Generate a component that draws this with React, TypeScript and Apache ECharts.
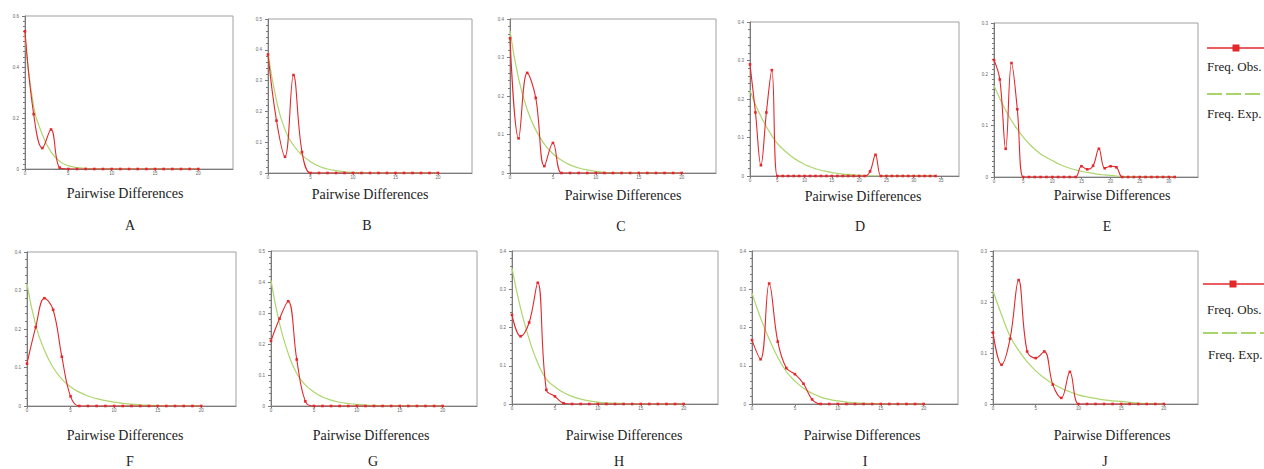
import React, { useEffect, useRef } from "react";
import * as echarts from "echarts";

// ---- Data (x = pairwise differences 0,1,2,...) ----
const panelLetters = ["A", "B", "C", "D", "E", "F", "G", "H", "I", "J"];

const obsA = [0.54, 0.215, 0.082, 0.155, 0.005, 0, 0, 0, 0, 0, 0, 0, 0, 0, 0, 0, 0, 0, 0, 0, 0];
const expA = [0.53, 0.245, 0.135, 0.067, 0.03, 0.013, 0.006, 0.003, 0.001, 0, 0, 0, 0, 0, 0, 0, 0, 0, 0, 0, 0];

const obsB = [0.385, 0.17, 0.053, 0.318, 0.068, 0, 0, 0, 0, 0, 0, 0, 0, 0, 0, 0, 0, 0, 0, 0, 0];
const expB = [0.39, 0.235, 0.14, 0.09, 0.058, 0.037, 0.022, 0.013, 0.008, 0.004, 0.002, 0.001, 0, 0, 0, 0, 0, 0, 0, 0, 0];

const obsC = [0.35, 0.09, 0.26, 0.195, 0.018, 0.078, 0, 0, 0, 0, 0, 0, 0, 0, 0, 0, 0, 0, 0, 0, 0];
const expC = [0.37, 0.245, 0.165, 0.112, 0.075, 0.05, 0.033, 0.021, 0.013, 0.008, 0.004, 0.002, 0.001, 0, 0, 0, 0, 0, 0, 0, 0];

const obsD = [0.29, 0.165, 0.028, 0.165, 0.275, 0, 0, 0, 0, 0, 0, 0, 0, 0, 0, 0, 0, 0, 0, 0, 0, 0, 0.012, 0.055, 0, 0, 0, 0, 0, 0, 0, 0, 0, 0, 0];
const expD = [0.223, 0.185, 0.155, 0.128, 0.105, 0.085, 0.07, 0.058, 0.047, 0.038, 0.03, 0.024, 0.019, 0.015, 0.012, 0.009, 0.007, 0.005, 0.004, 0.003, 0.002, 0.001, 0, 0, 0, 0, 0, 0, 0, 0, 0, 0, 0, 0, 0];

const obsE = [0.228, 0.19, 0.055, 0.222, 0.132, 0, 0, 0, 0, 0, 0, 0, 0, 0, 0, 0.021, 0.015, 0.022, 0.055, 0.017, 0.021, 0.019, 0, 0, 0, 0, 0, 0, 0, 0, 0, 0];
const expE = [0.178, 0.153, 0.13, 0.11, 0.093, 0.078, 0.065, 0.054, 0.045, 0.038, 0.032, 0.026, 0.021, 0.017, 0.014, 0.011, 0.009, 0.007, 0.005, 0.004, 0.003, 0.002, 0.001, 0, 0, 0, 0, 0, 0, 0, 0, 0];

const obsF = [0.11, 0.205, 0.28, 0.25, 0.128, 0.025, 0, 0, 0, 0, 0, 0, 0, 0, 0, 0, 0, 0, 0, 0, 0];
const expF = [0.318, 0.21, 0.145, 0.1, 0.07, 0.05, 0.036, 0.026, 0.019, 0.014, 0.01, 0.007, 0.005, 0.003, 0.002, 0.001, 0, 0, 0, 0, 0];

const obsG = [0.21, 0.282, 0.338, 0.15, 0.015, 0, 0, 0, 0, 0, 0, 0, 0, 0, 0, 0, 0, 0, 0, 0, 0];
const expG = [0.405, 0.265, 0.17, 0.105, 0.068, 0.045, 0.029, 0.019, 0.012, 0.008, 0.005, 0.003, 0.002, 0.001, 0, 0, 0, 0, 0, 0, 0];

const obsH = [0.233, 0.177, 0.213, 0.317, 0.037, 0.02, 0.002, 0, 0, 0, 0, 0, 0, 0, 0, 0, 0, 0, 0, 0, 0];
const expH = [0.355, 0.25, 0.17, 0.107, 0.065, 0.045, 0.03, 0.02, 0.013, 0.008, 0.005, 0.003, 0.002, 0.001, 0, 0, 0, 0, 0, 0, 0];

const obsI = [0.167, 0.117, 0.315, 0.163, 0.094, 0.078, 0.053, 0.012, 0, 0, 0, 0, 0, 0, 0, 0, 0, 0, 0, 0, 0];
const expI = [0.29, 0.225, 0.17, 0.122, 0.085, 0.06, 0.041, 0.028, 0.018, 0.012, 0.008, 0.005, 0.003, 0.002, 0.001, 0, 0, 0, 0, 0, 0];

const obsJ = [0.14, 0.077, 0.128, 0.243, 0.103, 0.09, 0.103, 0.038, 0.012, 0.063, 0, 0, 0, 0, 0, 0, 0, 0, 0, 0, 0];
const expJ = [0.222, 0.175, 0.133, 0.105, 0.083, 0.065, 0.051, 0.04, 0.031, 0.024, 0.018, 0.014, 0.011, 0.008, 0.006, 0.005, 0.003, 0.002, 0.001, 0.001, 0];

const observed = [obsA, obsB, obsC, obsD, obsE, obsF, obsG, obsH, obsI, obsJ];
const expected = [expA, expB, expC, expD, expE, expF, expG, expH, expI, expJ];

const yMax = [0.6, 0.5, 0.4, 0.4, 0.3, 0.4, 0.5, 0.4, 0.4, 0.3];
const yInterval = [0.2, 0.1, 0.1, 0.1, 0.1, 0.1, 0.1, 0.1, 0.1, 0.1];
const yMinorSplit = [10, 5, 5, 5, 10, 5, 5, 5, 5, 10];
const xMax = [24, 24, 24, 38.3, 35, 24, 24, 24, 24, 24];

const xTitle = "Pairwise Differences";
const legendObs = "Freq. Obs.";
const legendExp = "Freq. Exp.";

// ---- Layout (pixels) ----
const grids = [
  { left: 25, top: 16, width: 208, height: 153 },
  { left: 268, top: 19, width: 204, height: 154 },
  { left: 510, top: 19, width: 206, height: 154 },
  { left: 750, top: 22, width: 209, height: 154 },
  { left: 994, top: 23, width: 204, height: 154 },
  { left: 27, top: 252, width: 209, height: 154 },
  { left: 271, top: 251, width: 206, height: 155 },
  { left: 512, top: 251, width: 206, height: 153 },
  { left: 752, top: 251, width: 206, height: 153 },
  { left: 993, top: 251, width: 205, height: 153 },
];
const titlePos = [
  [125, 193], [370, 194], [623, 195], [863, 196], [1112, 195],
  [125, 435], [371, 435], [624, 435], [862, 435], [1112, 435],
];
const letterPos = [
  [130, 225], [367, 225], [621, 226], [860, 226], [1107, 226],
  [130, 461], [373, 461], [619, 461], [865, 461], [1105, 461],
];

const RED = "#e3282c";
const GREEN = "#add66e";
const AXIS = "#7a7a7a";
const SERIF = "'Liberation Serif', 'DejaVu Serif', serif";
const SANS = "'Liberation Sans', Arial, sans-serif";

function buildOption() {
  const grid: any[] = [];
  const xAxis: any[] = [];
  const yAxis: any[] = [];
  const series: any[] = [];
  const graphic: any[] = [];

  for (let i = 0; i < 10; i++) {
    grid.push({
      ...grids[i],
      show: true,
      borderColor: "#a0a0a0",
      borderWidth: 1,
      backgroundColor: "transparent",
      containLabel: false,
      outerBoundsMode: "none",
    });
    xAxis.push({
      type: "value",
      gridIndex: i,
      min: 0,
      max: xMax[i],
      interval: 5,
      axisLine: { show: true, lineStyle: { color: AXIS, width: 1 } },
      axisTick: { show: true, length: 2, lineStyle: { color: AXIS } },
      axisLabel: { fontSize: 4.5, color: "#666", margin: 2, fontFamily: SANS, showMaxLabel: false },
      splitLine: { show: false },
    });
    yAxis.push({
      type: "value",
      gridIndex: i,
      min: 0,
      max: yMax[i],
      interval: yInterval[i],
      axisLine: { show: true, lineStyle: { color: AXIS, width: 1 } },
      axisTick: { show: true, length: 3, lineStyle: { color: AXIS } },
      minorTick: { show: true, splitNumber: yMinorSplit[i], length: 2, lineStyle: { color: AXIS } },
      axisLabel: {
        fontSize: 4.5,
        color: "#666",
        margin: 6,
        fontFamily: SANS,
        formatter: (v: number) => (v === 0 ? "0" : String(+v.toFixed(1))),
      },
      splitLine: { show: false },
      minorSplitLine: { show: false },
    });
    series.push({
      type: "line",
      xAxisIndex: i,
      yAxisIndex: i,
      data: expected[i].map((v, k) => [k, v]),
      smooth: 0.5,
      showSymbol: false,
      symbol: "none",
      lineStyle: { color: GREEN, width: 1.2 },
      itemStyle: { color: GREEN },
      z: 2,
    });
    series.push({
      type: "line",
      xAxisIndex: i,
      yAxisIndex: i,
      data: observed[i].map((v, k) => [k, v]),
      smooth: 0.4,
      symbol: "rect",
      symbolSize: 2.6,
      showSymbol: true,
      lineStyle: { color: RED, width: 1.1 },
      itemStyle: { color: RED },
      z: 3,
    });
    graphic.push({
      type: "text",
      x: titlePos[i][0],
      y: titlePos[i][1],
      style: {
        text: xTitle,
        fontSize: 14,
        fontFamily: SERIF,
        fill: "#222",
        align: "center",
        verticalAlign: "middle",
      },
    });
    graphic.push({
      type: "text",
      x: letterPos[i][0],
      y: letterPos[i][1],
      style: {
        text: panelLetters[i],
        fontSize: 14,
        fontFamily: SERIF,
        fill: "#222",
        align: "center",
        verticalAlign: "middle",
      },
    });
  }

  // Legends (one per row)
  const legends = [
    { lineX: 1207, obsY: 48, markX: 1236, obsTextX: 1207, obsTextY: 66, expY: 94, expTextX: 1207, expTextY: 113 },
    { lineX: 1203, obsY: 284, markX: 1233, obsTextX: 1207, obsTextY: 309, expY: 333, expTextX: 1208, expTextY: 354 },
  ];
  legends.forEach((l) => {
    graphic.push({
      type: "line",
      shape: { x1: l.lineX, y1: l.obsY, x2: 1264, y2: l.obsY },
      style: { stroke: RED, lineWidth: 1.5 },
    });
    graphic.push({
      type: "rect",
      shape: { x: l.markX - 3.5, y: l.obsY - 3.5, width: 7, height: 7 },
      style: { fill: RED },
    });
    graphic.push({
      type: "text",
      x: l.obsTextX,
      y: l.obsTextY,
      style: { text: legendObs, fontSize: 13, fontFamily: SERIF, fill: "#222", align: "left", verticalAlign: "middle" },
    });
    graphic.push({
      type: "line",
      shape: { x1: l.lineX, y1: l.expY, x2: 1264, y2: l.expY },
      style: { stroke: "#8cc63f", lineWidth: 1.5, lineDash: [15, 4] },
    });
    graphic.push({
      type: "text",
      x: l.expTextX,
      y: l.expTextY,
      style: { text: legendExp, fontSize: 13, fontFamily: SERIF, fill: "#222", align: "left", verticalAlign: "middle" },
    });
  });

  return {
    animation: false,
    backgroundColor: "#ffffff",
    grid,
    xAxis,
    yAxis,
    series,
    graphic,
  };
}

export default function App() {
  const ref = useRef<HTMLDivElement>(null);
  useEffect(() => {
    if (!ref.current) return;
    const chart = echarts.init(ref.current, undefined, { renderer: "svg" });
    chart.setOption(buildOption() as any);
    return () => chart.dispose();
  }, []);
  return (
    <div
      ref={ref}
      style={{ position: "fixed", left: 0, top: 0, width: 1264, height: 469, background: "#fff" }}
    />
  );
}
